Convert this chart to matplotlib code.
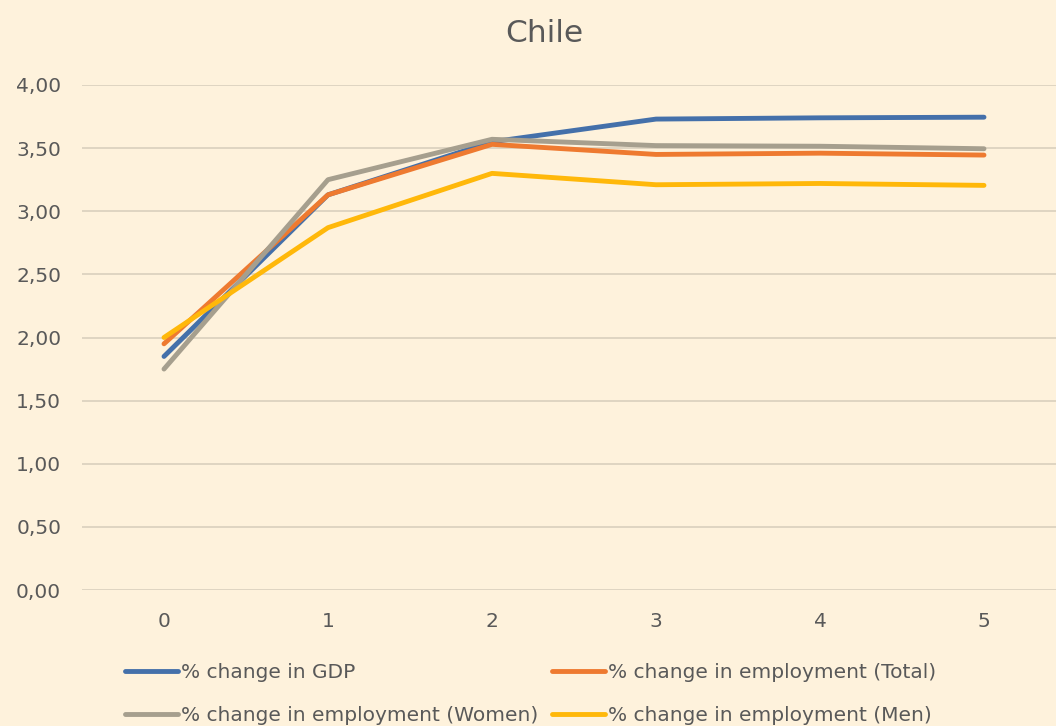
import matplotlib
matplotlib.use("Agg")
import matplotlib.pyplot as plt
from matplotlib.ticker import FuncFormatter

plt.rcParams['font.family'] = ['DejaVu Sans']

periods = [0, 1, 2, 3, 4, 5]
gdp = [1.85, 3.13, 3.55, 3.73, 3.74, 3.745]
emp_total = [1.95, 3.13, 3.53, 3.45, 3.46, 3.445]
emp_women = [1.75, 3.25, 3.57, 3.52, 3.515, 3.495]
emp_men = [2.00, 2.87, 3.30, 3.21, 3.22, 3.205]

series = [
    ("% change in GDP", gdp, "#4470AA"),
    ("% change in employment (Total)", emp_total, "#EE7A30"),
    ("% change in employment (Women)", emp_women, "#A69F8E"),
    ("% change in employment (Men)", emp_men, "#FFB80A"),
]

bg = "#FEF2DC"
txt = "#595959"

fig = plt.figure(figsize=(10.56, 7.26), dpi=100, facecolor=bg)
ax = fig.add_axes([82/1056, 1 - 590/726, 984/1056, 505/726])
ax.set_facecolor(bg)

handles = []
for name, vals, col in series:
    h, = ax.plot(periods, vals, color=col, lw=3.5, solid_capstyle='round',
                 solid_joinstyle='round', label=name)
    handles.append(h)

ax.set_xlim(-0.5, 5.5)
ax.set_ylim(0, 4)
ax.set_yticks([0, 0.5, 1, 1.5, 2, 2.5, 3, 3.5, 4])
ax.yaxis.set_major_formatter(FuncFormatter(lambda v, p: f"{v:.2f}".replace(".", ",")))
ax.set_xticks(periods)
ax.grid(axis='y', color="#DCD2C0", lw=1.3)
ax.set_axisbelow(True)
for s in ax.spines.values():
    s.set_visible(False)
ax.tick_params(length=0, labelsize=14.5, colors=txt)
ax.tick_params(axis='x', pad=16)
ax.tick_params(axis='y', pad=15)

fig.text(544/1056, 1 - 34/726, "Chile", ha='center', va='center', fontsize=22.5, color=txt)

# column-major fill: GDP / Women in first column, Total / Men in second
order = [handles[0], handles[2], handles[1], handles[3]]
leg = fig.legend(handles=order, loc='upper left', bbox_to_anchor=(117/1056, 1 - 655/726),
                 ncol=2, frameon=False, fontsize=14.5, labelcolor=txt,
                 handlelength=2.65, handletextpad=0.15, columnspacing=0.65,
                 labelspacing=1.2, borderaxespad=0)

fig.savefig("out.png", dpi=100, facecolor=bg)
